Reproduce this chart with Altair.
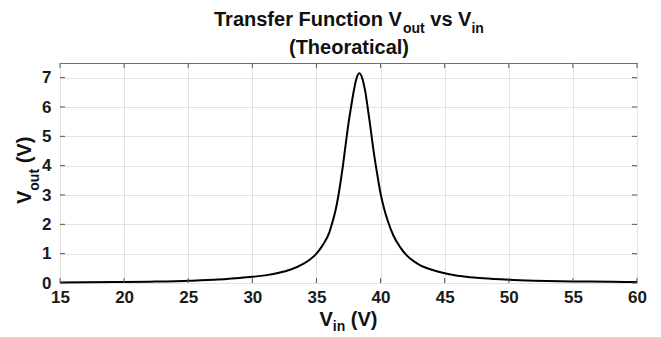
import altair as alt
import pandas as pd

# Curve
vin = [15, 17, 20, 22, 24, 25, 26, 27, 28, 29, 30, 31, 32, 33, 34, 34.5, 35, 35.5, 36, 36.2,
       36.5, 36.7, 36.9, 37.05, 37.2, 37.36, 37.5, 37.7, 37.9, 38.1, 38.35, 38.6, 38.8, 39.0,
       39.15, 39.31, 39.45, 39.62, 39.8, 40.0, 40.3, 40.6, 41.0, 41.5, 42, 42.5, 43, 44, 45,
       46, 47, 48, 50, 52, 55, 58, 60]
vout = [0.02, 0.025, 0.035, 0.045, 0.06, 0.075, 0.09, 0.11, 0.135, 0.17, 0.21, 0.26, 0.34,
        0.46, 0.66, 0.8, 1.0, 1.3, 1.72, 2.0, 2.5, 2.95, 3.5, 3.95, 4.45, 5.0, 5.45, 6.0, 6.52,
        6.94, 7.15, 6.94, 6.55, 5.97, 5.5, 4.98, 4.52, 4.03, 3.55, 3.05, 2.5, 2.07, 1.62, 1.24,
        0.96, 0.77, 0.63, 0.45, 0.33, 0.25, 0.2, 0.16, 0.11, 0.08, 0.055, 0.04, 0.03]
x_ticks = [15, 20, 25, 30, 35, 40, 45, 50, 55, 60]
y_ticks = [0, 1, 2, 3, 4, 5, 6, 7]
x_domain = [15, 60]
y_domain = [0, 7.5]

curve_df = pd.DataFrame({"vin": vin, "vout": vout})
xt_df = pd.DataFrame({"t": x_ticks})
yt_df = pd.DataFrame({"t": y_ticks})

W, H = 577, 220
FONT = "Liberation Sans"
LBL = "#1a1a1a"
TICK = "#555555"

xscale = alt.Scale(domain=x_domain, nice=False, zero=False)
yscale = alt.Scale(domain=y_domain, nice=False)

axis_common = dict(title=None, grid=True, gridColor="#e2e2e2", gridWidth=1, tickSize=0,
                   domain=False, labelFont=FONT, labelFontSize=17, labelFontWeight="bold",
                   labelColor=LBL, labelFlush=False, labelOverlap=False)
x_axis = alt.Axis(values=x_ticks, labelPadding=6, **axis_common)
y_axis = alt.Axis(values=y_ticks, labelPadding=9, **axis_common)

curve = alt.Chart(curve_df).mark_line(color="black", strokeWidth=2, interpolate="monotone").encode(
    x=alt.X("vin:Q", scale=xscale, axis=x_axis),
    y=alt.Y("vout:Q", scale=yscale, axis=y_axis),
)

# inward tick marks (MATLAB style) on all four sides
TX = 5 / H * (y_domain[1] - y_domain[0])   # 5px in y-data units
TY = 5 / W * (x_domain[1] - x_domain[0])   # 5px in x-data units

def xtick(a, b):
    return alt.Chart(xt_df).mark_rule(color=TICK, strokeWidth=1).encode(
        x=alt.X("t:Q", scale=xscale, axis=x_axis),
        y=alt.Y(datum=a, scale=yscale, axis=y_axis), y2=alt.Y2(datum=b))

def ytick(a, b):
    return alt.Chart(yt_df).mark_rule(color=TICK, strokeWidth=1).encode(
        y=alt.Y("t:Q", scale=yscale, axis=y_axis),
        x=alt.X(datum=a, scale=xscale, axis=x_axis), x2=alt.X2(datum=b))

def txt(s, x, y, size, angle=0):
    return alt.Chart(alt.Data(values=[{}])).mark_text(
        text=s, font=FONT, fontSize=size, fontWeight="bold", align="left",
        baseline="alphabetic", angle=angle, color="#111111").encode(
        x=alt.value(x), y=alt.value(y))

OX, OY = 60, 63  # plot origin on page (for placing text pieces)
t0 = 214
texts = [
    txt("Transfer Function V", t0 - OX, 26 - OY, 20),
    txt("out", 402.9 - OX, 33 - OY, 14),
    txt("vs V", 430.3 - OX, 26 - OY, 20),
    txt("in", 471.4 - OX, 33 - OY, 14),
    alt.Chart(alt.Data(values=[{}])).mark_text(
        text="(Theoratical)", font=FONT, fontSize=20, fontWeight="bold", align="center",
        baseline="alphabetic", color="#111111").encode(x=alt.value(349 - OX), y=alt.value(54 - OY)),
    # x label
    txt("V", 319.5 - OX, 326 - OY, 20),
    txt("in", 332.8 - OX, 331 - OY, 14),
    txt("(V)", 350.8 - OX, 326 - OY, 20),
    # y label (rotated)
    txt("V", 31 - OX, 204 - OY, 20, 270),
    txt("out", 39 - OX, 190.7 - OY, 14, 270),
    txt("(V)", 31 - OX, 163.3 - OY, 20, 270),
]

chart = alt.layer(
    curve,
    xtick(y_domain[0], y_domain[0] + TX), xtick(y_domain[1], y_domain[1] - TX),
    ytick(x_domain[0], x_domain[0] + TY), ytick(x_domain[1], x_domain[1] - TY),
    *texts,
).properties(
    width=W, height=H,
    padding={"left": 52, "top": 55, "right": 16, "bottom": 54},
    autosize=alt.AutoSizeParams(type="none"),
    background="white",
).configure_view(stroke="#6e6e6e", strokeWidth=1)

chart.save("out.html", embed_options={"renderer": "svg", "actions": False})
